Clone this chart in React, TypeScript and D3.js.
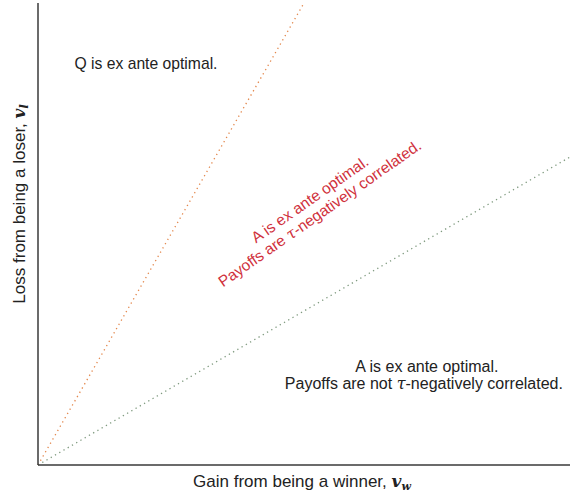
import React from "react";
import * as d3 from "d3";

const W = 570;
const H = 493;

// boundary slopes (v_l = slope * v_w)
const boundaryNames = ["upper", "lower"];
const boundarySlopes = [2, 2 / 3];
const boundaryColors = ["#e3874c", "#7f9a7f"];

const xDomain = [0, 1];
const yDomain = [0, 1];

const regionLabels = [
  ["Q is ex ante optimal."],
  ["A is ex ante optimal.", "Payoffs are \u03C4-negatively correlated."],
  ["A is ex ante optimal.", "Payoffs are not \u03C4-negatively correlated."],
];
const regionPos = [
  [0.203, 0.858],
  [0.52, 0.56],
  [0.731, 0.2],
];

export default function App() {
  const x = d3.scaleLinear().domain(xDomain).range([38, 570]);
  const y = d3.scaleLinear().domain(yDomain).range([465, 3]);
  const font = "'Liberation Sans', Arial, Helvetica, sans-serif";

  const lineGen = d3
    .line<[number, number]>()
    .x((d) => x(d[0]))
    .y((d) => y(d[1]));

  const renderLine = (t: string) => {
    const parts = t.split("\u03C4");
    if (parts.length === 1) return t;
    return (
      <>
        {parts[0]}
        <tspan fontFamily="'DejaVu Serif', serif" fontStyle="italic">
          {"\u03C4"}
        </tspan>
        {parts[1]}
      </>
    );
  };

  return (
    <svg
      width={W}
      height={H}
      style={{ position: "absolute", left: 0, top: 0, background: "#fff" }}
    >
      {boundarySlopes.map((s, i) => {
        const xe = Math.min(xDomain[1], yDomain[1] / s);
        const pts: [number, number][] = [
          [0, 0],
          [xe, s * xe],
        ];
        return (
          <path
            key={boundaryNames[i]}
            d={lineGen(pts) || ""}
            fill="none"
            stroke={boundaryColors[i]}
            strokeWidth={1.3}
            strokeDasharray="1.3 3.6"
          />
        );
      })}
      {/* axes */}
      <line x1={x(0)} y1={y(yDomain[1])} x2={x(0)} y2={y(0)} stroke="#3a3a3a" strokeWidth={1.5} />
      <line x1={x(0)} y1={y(0)} x2={x(xDomain[1])} y2={y(0)} stroke="#3a3a3a" strokeWidth={1.5} />

      {/* region labels */}
      <text x={x(regionPos[0][0])} y={y(regionPos[0][1])} textAnchor="middle" fontFamily={font} fontSize={15.7} fill="#222">
        {regionLabels[0][0]}
      </text>
      <g
        transform={`translate(${x(regionPos[1][0])},${y(regionPos[1][1])}) rotate(-35)`}
        fontFamily={font}
        fontSize={15.5}
        fill="#d0313c"
        textAnchor="middle"
      >
        <text x={0} y={-3}>{renderLine(regionLabels[1][0])}</text>
        <text x={0} y={14}>{renderLine(regionLabels[1][1])}</text>
      </g>
      <g fontFamily={font} fontSize={16} fill="#222" textAnchor="middle">
        <text x={x(regionPos[2][0])} y={372}>{renderLine(regionLabels[2][0])}</text>
        <text x={x(regionPos[2][0]) - 3} y={389}>{renderLine(regionLabels[2][1])}</text>
      </g>

      {/* axis titles */}
      <text x={302} y={487} textAnchor="middle" fontFamily={font} fontSize={17} fill="#222">
        Gain from being a winner,{" "}
        <tspan fontFamily="'DejaVu Serif', serif" fontStyle="italic" fontWeight="bold">v</tspan>
        <tspan fontFamily="'DejaVu Serif', serif" fontStyle="italic" fontWeight="bold" fontSize={11} dy={3}>w</tspan>
      </text>
      <text
        transform={`translate(25,204) rotate(-90)`}
        textAnchor="middle"
        fontFamily={font}
        fontSize={17}
        fill="#222"
      >
        Loss from being a loser,{" "}
        <tspan fontFamily="'DejaVu Serif', serif" fontStyle="italic" fontWeight="bold">v</tspan>
        <tspan fontFamily="'DejaVu Serif', serif" fontStyle="italic" fontWeight="bold" fontSize={11} dy={3}>l</tspan>
      </text>
    </svg>
  );
}
